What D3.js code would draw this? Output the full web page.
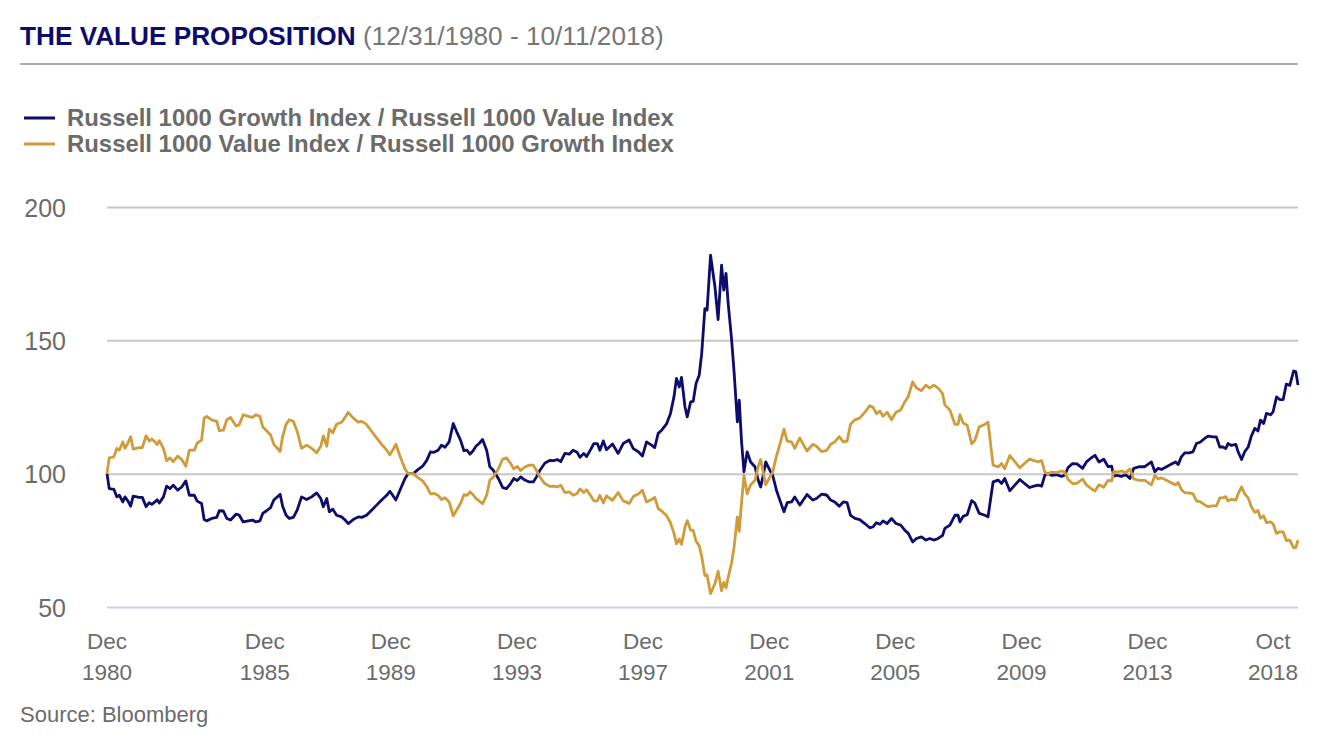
<!DOCTYPE html>
<html>
<head>
<meta charset="utf-8">
<script src="https://cdn.jsdelivr.net/npm/d3@7"></script>
<style>
  body { margin: 0; background: #fff; }
  text { font-family: "Liberation Sans", Arial, Helvetica, sans-serif; }
</style>
</head>
<body>
<div id="chart"></div>
<script>
// dates as decimal years (1981.00 = 12/31/1980)
var dates = [
  1981.00,1981.07,1981.22,1981.31,1981.39,1981.50,1981.57,1981.66,1981.75,1981.83,
  1982.02,1982.12,1982.24,1982.34,1982.42,1982.52,1982.59,1982.66,1982.79,1982.89,
  1983.00,1983.10,1983.24,1983.37,1983.50,1983.61,1983.77,1983.86,1984.00,1984.08,
  1984.16,1984.32,1984.48,1984.56,1984.69,1984.80,1984.92,1985.09,1985.19,1985.32,
  1985.48,1985.62,1985.72,1985.85,1985.94,1986.06,1986.19,1986.29,1986.38,1986.49,
  1986.57,1986.68,1986.78,1986.91,1987.03,1987.17,1987.33,1987.49,1987.65,1987.78,
  1987.86,1987.97,1988.05,1988.16,1988.28,1988.44,1988.55,1988.65,1988.81,1988.97,
  1989.08,1989.23,1989.39,1989.55,1989.71,1989.87,1989.97,1990.06,1990.16,1990.29,
  1990.45,1990.55,1990.71,1990.87,1991.01,1991.14,1991.26,1991.37,1991.50,1991.61,
  1991.72,1991.85,1991.98,1992.09,1992.21,1992.32,1992.42,1992.51,1992.61,1992.70,
  1992.80,1992.91,1993.04,1993.14,1993.25,1993.41,1993.55,1993.67,1993.80,1993.90,
  1994.01,1994.12,1994.25,1994.39,1994.52,1994.62,1994.73,1994.89,1995.05,1995.17,
  1995.28,1995.39,1995.52,1995.66,1995.78,1995.91,1996.00,1996.12,1996.21,1996.34,
  1996.44,1996.55,1996.63,1996.74,1996.84,1997.03,1997.21,1997.37,1997.56,1997.69,
  1997.85,1997.98,1998.11,1998.27,1998.37,1998.48,1998.59,1998.75,1998.87,1998.98,
  1999.06,1999.15,1999.22,1999.33,1999.40,1999.51,1999.59,1999.68,1999.78,1999.86,
  1999.96,2000.03,2000.14,2000.28,2000.38,2000.49,2000.56,2000.63,2000.70,2000.81,
  2000.89,2000.99,2001.05,2001.12,2001.20,2001.30,2001.41,2001.55,2001.65,2001.73,
  2001.81,2001.89,2002.02,2002.11,2002.23,2002.34,2002.47,2002.57,2002.71,2002.81,
  2002.97,2003.08,2003.20,2003.38,2003.50,2003.66,2003.82,2003.95,2004.08,2004.22,
  2004.35,2004.47,2004.58,2004.72,2004.87,2005.03,2005.19,2005.30,2005.40,2005.51,
  2005.61,2005.74,2005.88,2006.02,2006.17,2006.30,2006.41,2006.55,2006.67,2006.83,
  2006.97,2007.09,2007.22,2007.36,2007.50,2007.57,2007.73,2007.89,2007.99,2008.05,
  2008.15,2008.28,2008.42,2008.52,2008.66,2008.84,2008.94,2009.10,2009.26,2009.37,
  2009.47,2009.63,2009.79,2009.95,2010.07,2010.26,2010.39,2010.53,2010.64,2010.74,
  2010.84,2010.95,2011.11,2011.27,2011.37,2011.48,2011.62,2011.76,2011.94,2012.06,
  2012.19,2012.33,2012.46,2012.61,2012.75,2012.86,2012.93,2013.03,2013.17,2013.31,
  2013.44,2013.56,2013.73,2013.91,2014.12,2014.23,2014.33,2014.44,2014.60,2014.76,
  2014.89,2014.97,2015.07,2015.18,2015.32,2015.44,2015.55,2015.68,2015.81,2015.92,
  2016.06,2016.18,2016.29,2016.39,2016.48,2016.55,2016.66,2016.80,2016.87,2016.98,
  2017.08,2017.19,2017.29,2017.40,2017.50,2017.58,2017.68,2017.77,2017.90,2017.98,
  2018.09,2018.19,2018.30,2018.40,2018.51,2018.63,2018.70,2018.77
];

// Russell 1000 Growth / Russell 1000 Value
var growthOverValue = [
  100,94.4,94.1,91.3,91.9,89.4,91.3,89.8,87.8,91.6,
  91.1,91.1,87.6,89.1,88.5,89.4,90.2,89.0,91.3,95.3,
  94.4,95.7,93.8,95.0,97.3,91.9,91.9,89.7,88.8,82.8,
  82.3,83.2,83.6,86.1,86.0,83.2,82.6,84.8,84.5,81.9,
  82.3,82.6,81.9,82.3,85.1,86.1,87.3,90.1,91.1,92.3,
  87.8,84.4,83.2,83.6,86.3,91.3,90.3,91.3,92.8,90.7,
  87.6,90.7,85.7,86.7,84.4,83.8,82.6,81.3,82.8,83.8,
  83.6,84.4,86.3,88.2,90.1,91.9,93.4,91.9,90.1,93.8,
  98.2,100,100,101.6,102.8,105.0,108.2,108.0,108.8,110.7,
  109.9,111.9,118.8,115.7,112.6,108.6,108.8,107.3,108.6,110.3,
  111.3,112.8,108.8,102.6,101.3,98.2,94.8,94.4,96.3,98.2,
  97.4,98.8,97.6,96.9,96.9,98.8,101.3,104.0,105.0,104.9,
  105.3,104.5,107.6,107.3,108.8,108.0,106.1,107.6,106.4,109.1,
  111.3,111.3,108.8,112.3,109.0,111.1,107.6,111.3,112.6,109.4,
  108.2,106.6,111.9,110.7,109.8,115.1,116.3,118.8,122.6,128.8,
  135.7,132.5,136.1,125.0,121.3,126.9,127.1,133.8,136.9,145.1,
  161.9,161.3,181.9,170.0,157.8,178.2,168.8,175.1,163.8,150.0,
  137.6,119.4,127.6,112.6,100.7,108.2,104.4,102.6,97.6,95.0,
  99.4,104.4,101.3,99.4,93.8,90.0,85.7,89.1,89.4,91.3,
  88.2,90.1,92.2,90.1,90.7,92.3,92.0,90.1,89.4,87.8,
  89.4,89.1,84.4,83.2,82.8,81.3,79.7,80.1,81.6,81.0,
  82.3,81.3,83.2,81.3,80.7,78.8,77.6,74.4,75.7,76.3,
  75.1,75.7,75.1,75.7,76.9,79.5,80.7,84.4,84.4,81.9,
  84.0,84.6,89.9,89.0,85.1,84.4,83.8,96.9,97.6,96.3,
  98.2,93.6,95.7,97.8,96.6,94.8,95.3,95.7,95.3,99.4,
  100.1,99.4,99.6,99.0,99.4,102.3,103.8,103.7,102.0,104.4,
  105.7,106.9,104.4,105.4,102.6,102.8,99.1,99.4,99.0,99.6,
  98.2,102.0,102.6,102.6,104.4,100.7,102.0,101.6,102.6,103.6,
  104.4,103.4,106.3,107.8,107.8,108.2,111.3,111.9,113.2,114.1,
  113.8,113.8,110.0,110.0,109.4,111.3,110.6,111.0,108.2,105.3,
  108.2,110.0,114.1,117.0,116.0,120.1,118.8,122.6,122.1,123.2,
  128.8,127.8,127.8,133.6,133.1,138.5,138.3,133.2
];

// Russell 1000 Value / Russell 1000 Growth
var valueOverGrowth = [
  100,105.9,106.3,109.5,108.8,111.9,109.5,111.4,113.9,109.2,
  109.8,109.8,114.2,112.2,113.0,111.9,110.9,112.4,109.5,104.9,
  105.9,104.5,106.6,105.3,102.8,108.8,108.8,111.5,112.6,120.8,
  121.5,120.2,119.6,116.1,116.3,120.2,121.1,117.9,118.3,122.1,
  121.5,121.1,122.1,121.5,117.5,116.1,114.5,111.0,109.8,108.3,
  113.9,118.5,120.2,119.6,115.9,109.5,110.7,109.5,107.8,110.3,
  114.2,110.3,116.7,115.3,118.5,119.3,121.1,123.0,120.8,119.3,
  119.6,118.5,115.9,113.4,111.0,108.8,107.1,108.8,111.0,106.6,
  101.8,100,100,98.4,97.3,95.2,92.4,92.6,91.9,90.3,
  91.0,89.4,84.2,86.4,88.8,92.1,91.9,93.2,92.1,90.7,
  89.8,88.7,91.9,97.5,98.7,101.8,105.5,105.9,103.8,101.8,
  102.7,101.2,102.5,103.2,103.2,101.2,98.7,96.2,95.2,95.3,
  95.0,95.7,92.9,93.2,91.9,92.6,94.3,92.9,94.0,91.7,
  89.8,89.8,91.9,89.0,91.7,90.0,92.9,89.8,88.8,91.4,
  92.4,93.8,89.4,90.3,91.1,86.9,86.0,84.2,81.6,77.6,
  73.7,75.5,73.5,80.0,82.4,78.8,78.7,74.7,73.0,68.9,
  61.8,62.0,55.0,58.8,63.4,56.1,59.2,57.1,61.1,66.7,
  72.7,83.8,78.4,88.8,99.3,92.4,95.8,97.5,102.5,105.3,
  100.6,95.8,98.7,100.6,106.6,111.1,116.7,112.2,111.9,109.5,
  113.4,111.0,108.5,111.0,110.3,108.3,108.7,111.0,111.9,113.9,
  111.9,112.2,118.5,120.2,120.8,123.0,125.5,124.8,122.5,123.5,
  121.5,123.0,120.2,123.0,123.9,126.9,128.9,134.4,132.1,131.1,
  133.2,132.1,133.2,132.1,130.0,125.8,123.9,118.5,118.5,122.1,
  119.0,118.2,111.2,112.4,117.5,118.5,119.3,103.2,102.5,103.8,
  101.8,106.8,104.5,102.2,103.5,105.5,104.9,104.5,104.9,100.6,
  99.9,100.6,100.4,101.0,100.6,97.8,96.3,96.4,98.0,95.8,
  94.6,93.5,95.8,94.9,97.5,97.3,100.9,100.6,101.0,100.4,
  101.8,98.0,97.5,97.5,95.8,99.3,98.0,98.4,97.5,96.5,
  95.8,96.7,94.1,92.8,92.8,92.4,89.8,89.4,88.3,87.6,
  87.9,87.9,90.9,90.9,91.4,89.8,90.4,90.1,92.4,95.0,
  92.4,90.9,87.6,85.5,86.2,83.3,84.2,81.6,81.9,81.2,
  77.6,78.2,78.2,74.9,75.1,72.2,72.3,75.1
];

var yTicks = [50, 100, 150, 200];
var xTickDates = [1981, 1986, 1990, 1994, 1998, 2002, 2006, 2010, 2014, 2018.77];
var xTickMonths = ["Dec", "Dec", "Dec", "Dec", "Dec", "Dec", "Dec", "Dec", "Dec", "Oct"];
var xTickYears = ["1980", "1985", "1989", "1993", "1997", "2001", "2005", "2009", "2013", "2018"];

var seriesNames = ["Russell 1000 Growth Index / Russell 1000 Value Index",
                   "Russell 1000 Value Index / Russell 1000 Growth Index"];
var navy = "#0d0c6b", gold = "#d09c3b", grey = "#6b6b6b";

var width = 1342, height = 748;
var margin = {top: 207, right: 44, bottom: 141, left: 107};

var svg = d3.select("#chart").append("svg")
    .attr("width", width)
    .attr("height", height);

// title
var title = svg.append("text").attr("x", 20).attr("y", 45).style("font-size", "26.2px");
title.append("tspan").attr("fill", navy).attr("font-weight", "bold").text("THE VALUE PROPOSITION");
title.append("tspan").attr("fill", "#777").text(" (12/31/1980 - 10/11/2018)");

svg.append("line")
    .attr("x1", 20).attr("x2", width - margin.right)
    .attr("y1", 64).attr("y2", 64)
    .attr("stroke", "#ababab").attr("stroke-width", 2);

// legend
var legend = svg.selectAll(".legend")
  .data(seriesNames)
  .enter().append("g")
    .attr("transform", function(d, i) { return "translate(24," + (118 + i * 26) + ")"; });
legend.append("line")
    .attr("x1", 0).attr("x2", 31).attr("y1", 0).attr("y2", 0)
    .attr("stroke", function(d, i) { return i === 0 ? navy : gold; })
    .attr("stroke-width", 3);
legend.append("text")
    .attr("x", 43).attr("y", 8)
    .attr("fill", grey)
    .attr("font-weight", "bold")
    .style("font-size", "23.9px")
    .text(function(d) { return d; });

var g = svg.append("g")
    .attr("transform", "translate(" + margin.left + "," + margin.top + ")");
var w = width - margin.left - margin.right,
    h = height - margin.top - margin.bottom;

var x = d3.scaleLinear()
    .domain([1981, 2018.77])
    .range([0, w]);
var y = d3.scaleLinear()
    .domain([50, 200])
    .range([h, 0]);

// grid + y labels
var yAxis = g.append("g")
    .call(d3.axisLeft(y).tickValues(yTicks).tickSize(-w).tickPadding(41));
yAxis.select(".domain").remove();
yAxis.selectAll(".tick line")
    .attr("stroke", function(d) { return d === 50 ? "#c6d2dd" : "#c8c8c8"; })
    .attr("stroke-width", 2);
yAxis.selectAll(".tick text")
    .attr("fill", grey)
    .attr("dy", "0.36em")
    .style("font-size", "25px")
    .style("font-family", "'Liberation Sans', Arial, sans-serif");

// x labels
var xl = g.selectAll(".xlab")
  .data(xTickDates)
  .enter().append("text")
    .attr("text-anchor", "middle")
    .attr("fill", grey)
    .style("font-size", "22.5px")
    .attr("transform", function(d, i) {
      var off = i === xTickDates.length - 1 ? -25 : 0;
      return "translate(" + (x(d) + off) + "," + (h + 42) + ")";
    });
xl.append("tspan").attr("x", 0).attr("y", 0).text(function(d, i) { return xTickMonths[i]; });
xl.append("tspan").attr("x", 0).attr("y", 31).text(function(d, i) { return xTickYears[i]; });

// lines
var lineFor = function(vals) {
  return d3.line()
    .x(function(d, i) { return x(dates[i]); })
    .y(function(d) { return y(d); })(vals);
};
g.append("path")
    .attr("d", lineFor(growthOverValue))
    .attr("fill", "none")
    .attr("stroke", navy)
    .attr("stroke-width", 2.8)
    .attr("stroke-linejoin", "round");
g.append("path")
    .attr("d", lineFor(valueOverGrowth))
    .attr("fill", "none")
    .attr("stroke", gold)
    .attr("stroke-width", 2.8)
    .attr("stroke-linejoin", "round");

// source
svg.append("text")
    .attr("x", 20).attr("y", 722)
    .attr("fill", grey)
    .style("font-size", "22px")
    .text("Source: Bloomberg");
</script>
</body>
</html>
